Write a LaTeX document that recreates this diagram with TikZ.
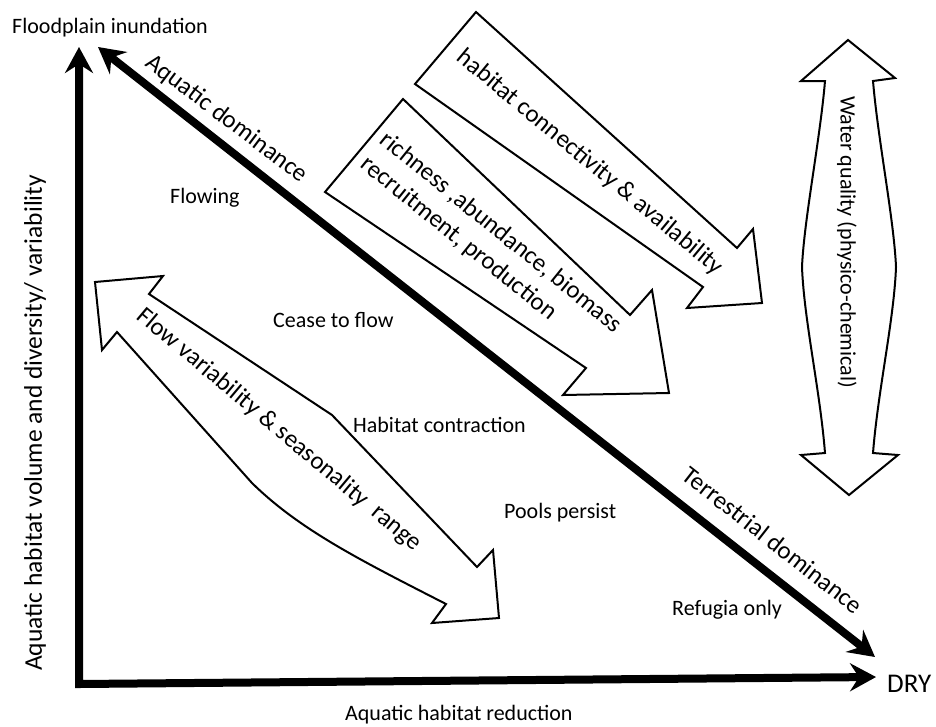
\documentclass[tikz,border=0pt]{standalone}
\usepackage{fontspec}
\setmainfont{Carlito}
\usetikzlibrary{arrows.meta}
\begin{document}
\begin{tikzpicture}[x=1pt,y=-1pt,
  axisline/.style={line width=8pt,line join=miter},
  axtip/.tip={Stealth[length=26pt,width=28pt,inset=9pt]},
  blockarrow/.style={draw=black,line width=2pt,fill=white,line join=miter},
  smalltxt/.style={font=\fontsize{22}{26}\selectfont,inner sep=0pt},
  bigtxt/.style={font=\fontsize{25}{31}\selectfont,inner sep=0pt}]
\useasboundingbox (0,0) rectangle (936,726);
\fill[white] (0,0) rectangle (936,726);

% axes
\coordinate (ytop) at (79,47);
\coordinate (origin) at (79,684);
\coordinate (xend) at (876,677);
\coordinate (dtop) at (98,47);
\coordinate (dend) at (875,657);
\draw[axisline,axtip-axtip] (ytop) -- (origin) -- (xend);
\draw[axisline,axtip-axtip] (dtop) -- (dend);

% block arrow: habitat connectivity
\draw[blockarrow] (476,12) -- (415,84) -- (703,287) -- (687,308) -- (762,303)
  -- (753,229) -- (737,248) -- cycle;
% block arrow: richness
\draw[blockarrow] (403,99) -- (325,192) -- (586,368) -- (563,395) -- (669,393)
  -- (652,290) -- (630,315) -- cycle;
% double arrow: flow variability
\draw[blockarrow] (95,282) -- (163,276) -- (149,294) -- (332,415) -- (477,567)
  -- (493,550) -- (499,618) -- (432,623) -- (446,604)
  .. controls (360,560) and (300,530) .. (252,483)
  -- (117,332) -- (102,350) -- cycle;
% double arrow: water quality
\draw[blockarrow] (848,40) -- (895,78) -- (873,81)
  .. controls (878,140) and (894,220) .. (896,267)
  .. controls (894,320) and (878,390) .. (873,453)
  -- (898,455) -- (849,495) -- (801,455) -- (825,453)
  .. controls (820,390) and (804,320) .. (802,267)
  .. controls (804,220) and (820,140) .. (825,81)
  -- (801,81) -- cycle;

% labels
\node[smalltxt,anchor=base west] (flood) at (12,33) {Floodplain inundation};
\node[smalltxt,anchor=base west] (flowing) at (170,203) {Flowing};
\node[smalltxt,anchor=base west] (cease) at (273,327) {Cease to flow};
\node[smalltxt,anchor=base west] (contr) at (353,432) {Habitat contraction};
\node[smalltxt,anchor=base west] (pools) at (504,518) {Pools persist};
\node[smalltxt,anchor=base west] (refugia) at (672,615) {Refugia only};
\node[smalltxt,anchor=base west] (xlab) at (345,720) {Aquatic habitat reduction};
\node[inner sep=0pt,font=\fontsize{27}{30}\selectfont,anchor=base west] (dry) at (887,692) {DRY};

\node[bigtxt,rotate=-37] (aqdom) at (226.5,119) {Aquatic dominance};
\node[bigtxt,rotate=-38] (terdom) at (773,540) {Terrestrial dominance};
\node[bigtxt,rotate=-39.7] (conn) at (590,162.5) {habitat connectivity \& availability};
\node[bigtxt,rotate=-39,align=left] (rich) at (491,245) {richness ,abundance, biomass\\recruitment, production};
\node[bigtxt,rotate=-40] (flowvar) at (279,430) {Flow variability \& seasonality\ \ range};
\node[smalltxt,rotate=-90] (water) at (847,242) {Water quality (physico-chemical)};
\node[inner sep=0pt,font=\fontsize{25.5}{30}\selectfont,rotate=90] (ylab) at (35,423) {Aquatic habitat volume and diversity/ variability};
\end{tikzpicture}
\end{document}
